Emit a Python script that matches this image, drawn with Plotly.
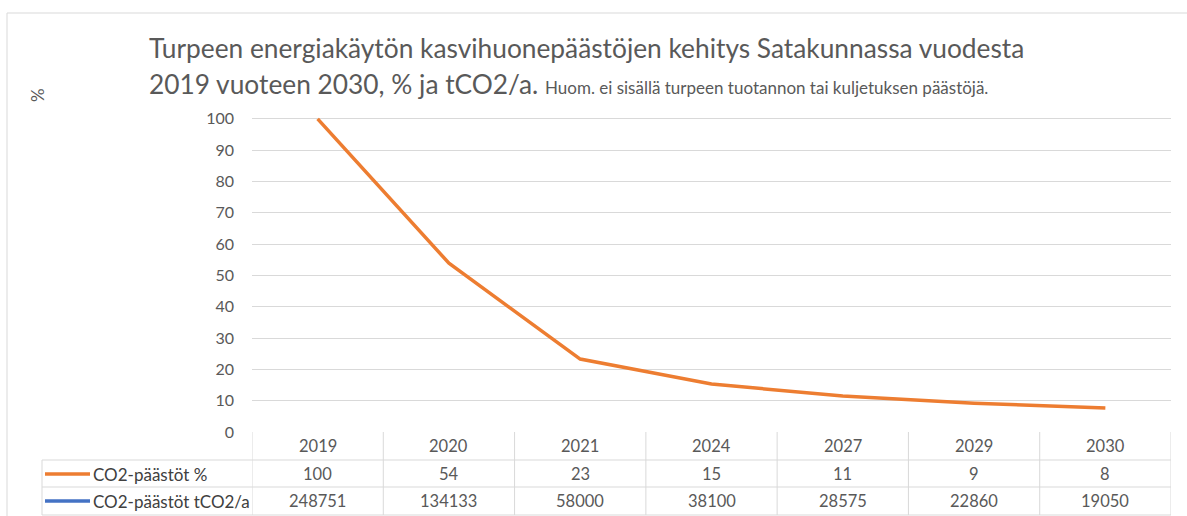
import plotly.graph_objects as go

# ---- data ----
years = ["2019", "2020", "2021", "2024", "2027", "2029", "2030"]
pct_line = [100, 53.9, 23.3, 15.3, 11.5, 9.2, 7.7]
pct_table = [100, 54, 23, 15, 11, 9, 8]
tco2_table = [248751, 134133, 58000, 38100, 28575, 22860, 19050]
series_names = ["CO2-päästöt %", "CO2-päästöt tCO2/a"]
series_colors = ["#ED7D31", "#4472C4"]
title_line1 = "Turpeen energiakäytön kasvihuonepäästöjen kehitys Satakunnassa vuodesta"
title_line2 = "2019 vuoteen 2030, % ja tCO2/a."
title_note = "Huom. ei sisällä turpeen tuotannon tai kuljetuksen päästöjä."
y_title = "%"

W, H = 1187, 516
L, R = 252, 1171
T, B = 117, 432
FONT = "Lato"
GRID = "#d9d9d9"
TXT = "#595959"


def px(x):
    return (x - L) / (R - L)


def py(y):
    return (B - y) / (B - T)


fig = go.Figure()
fig.add_trace(go.Scatter(
    x=list(range(len(years))), y=pct_line, mode="lines",
    line=dict(color=series_colors[0], width=3.5),
    showlegend=False, hoverinfo="y",
))

shapes = []
annotations = []

# outer chart border
shapes.append(dict(type="rect", xref="paper", yref="paper",
                   x0=px(7), x1=px(1195), y0=py(530), y1=py(13),
                   line=dict(color=GRID, width=1), layer="below"))

# table lines
for ry in [460, 487, 515]:
    shapes.append(dict(type="line", xref="paper", yref="paper",
                       x0=px(42), x1=1, y0=py(ry), y1=py(ry),
                       line=dict(color=GRID, width=1)))
shapes.append(dict(type="line", xref="paper", yref="paper",
                   x0=px(42), x1=px(42), y0=py(460), y1=py(515),
                   line=dict(color=GRID, width=1)))
for i in range(len(years) + 1):
    shapes.append(dict(type="line", xref="x", yref="paper",
                       x0=i - 0.5, x1=i - 0.5, y0=py(432), y1=py(515),
                       line=dict(color=GRID, width=1)))

# header row / value rows
row_centers = [446, 474, 501]
rows = [years, [str(v) for v in pct_table], [str(v) for v in tco2_table]]
for r, vals in enumerate(rows):
    for i, v in enumerate(vals):
        annotations.append(dict(x=i, y=py(row_centers[r]), xref="x", yref="paper",
                                text=v, showarrow=False, xanchor="center", yanchor="middle",
                                font=dict(family=FONT, size=16.5, color=TXT)))

# legend keys in table
for k, name in enumerate(series_names):
    yc = py(row_centers[k + 1])
    shapes.append(dict(type="line", xref="paper", yref="paper",
                       x0=px(45), x1=px(90), y0=yc, y1=yc,
                       line=dict(color=series_colors[k], width=3.5)))
    annotations.append(dict(x=px(91), y=yc, xref="paper", yref="paper",
                            text=name, showarrow=False, xanchor="left", yanchor="middle",
                            font=dict(family=FONT, size=17, color="#404040")))

# titles
annotations.append(dict(x=px(147), y=py(48), xref="paper", yref="paper",
                        text=title_line1, showarrow=False, xanchor="left", yanchor="middle",
                        font=dict(family=FONT, size=26.3, color=TXT)))
annotations.append(dict(x=px(147), y=py(84), xref="paper", yref="paper",
                        text=title_line2 + " <span style='font-size:17px'>" + title_note + "</span>",
                        showarrow=False, xanchor="left", yanchor="middle",
                        font=dict(family=FONT, size=26.3, color=TXT)))
annotations.append(dict(x=px(37), y=py(95), xref="paper", yref="paper",
                        text=y_title, showarrow=False, textangle=-90,
                        xanchor="center", yanchor="middle",
                        font=dict(family=FONT, size=17, color=TXT)))

fig.update_layout(
    width=W, height=H,
    margin=dict(l=L, r=W - R, t=T, b=H - B, pad=0),
    paper_bgcolor="white", plot_bgcolor="white",
    xaxis=dict(range=[-0.5, len(years) - 0.5],
               showticklabels=False, showgrid=False, zeroline=False,
               showline=False, ticks=""),
    yaxis=dict(range=[0, 100.6], tickmode="array", tickvals=list(range(0, 101, 10)),
               showgrid=True, gridcolor=GRID, gridwidth=1, zeroline=False,
               showline=False, ticks="", ticklabelstandoff=17,
               tickfont=dict(family=FONT, size=16, color=TXT)),
    shapes=shapes, annotations=annotations,
    showlegend=False,
)

fig.write_html("out.html", config={"displayModeBar": False},
               post_script="document.body.style.margin='0';document.body.style.overflow='hidden';")
